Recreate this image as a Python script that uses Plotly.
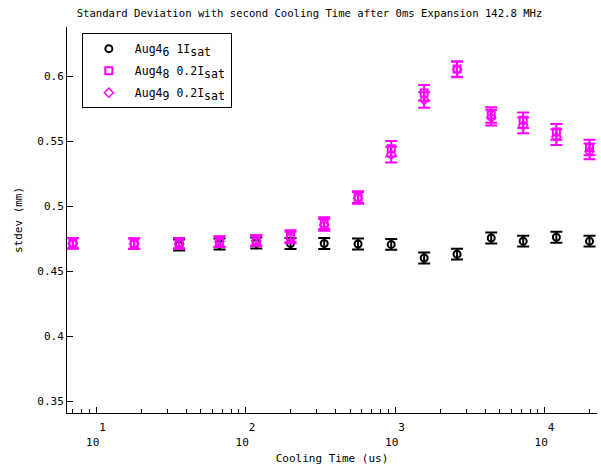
import plotly.graph_objects as go

# Cooling times (us)
t_all = [7, 18, 36, 67, 118, 200, 336, 566, 943, 1567, 2600, 4400, 7200, 12000, 20000]
t_black = [36, 67, 118, 200, 336, 566, 943, 1567, 2600, 4400, 7200, 12000, 20000]

# Aug4_6 1 Isat (black circles)
sd6 = [0.4700, 0.4708, 0.4715, 0.4712, 0.4712, 0.4708, 0.4705, 0.4600, 0.4630, 0.4754, 0.4730, 0.4760, 0.4730]
err6 = [0.0042, 0.0042, 0.0042, 0.0042, 0.0042, 0.0042, 0.0042, 0.0042, 0.0042, 0.0042, 0.0042, 0.0042, 0.0042]

# Aug4_8 0.2 Isat (magenta squares)
sd8 = [0.4715, 0.4712, 0.4715, 0.4727, 0.4737, 0.4768, 0.4868, 0.5068, 0.5440, 0.5870, 0.6054, 0.5700, 0.5660, 0.5570, 0.5450]
err8 = [0.0040, 0.0040, 0.0040, 0.0040, 0.0040, 0.0045, 0.0045, 0.0045, 0.0060, 0.0060, 0.0060, 0.0060, 0.0060, 0.0060, 0.0060]

# Aug4_9 0.2 Isat (magenta diamonds)
sd9 = [0.4712, 0.4710, 0.4712, 0.4725, 0.4733, 0.4758, 0.4855, 0.5062, 0.5395, 0.5815, 0.6050, 0.5680, 0.5620, 0.5530, 0.5420]
err9 = [0.0040, 0.0040, 0.0040, 0.0040, 0.0040, 0.0045, 0.0045, 0.0045, 0.0060, 0.0060, 0.0060, 0.0060, 0.0060, 0.0060, 0.0060]

x_major = [10, 100, 1000, 10000]
x_exponents = ["1", "2", "3", "4"]
x_minor = [m * 10 ** e for e in range(0, 5) for m in range(2, 10)]
y_ticks = [0.35, 0.4, 0.45, 0.5, 0.55, 0.6]
y_text = ["0.35", "0.4", "0.45", "0.5", "0.55", "0.6"]

FONT = "DejaVu Sans Mono"
MAG = "#FF00FF"
NB = "\u00a0"

def full_sub(s):
    return "<sub><span style='font-size:11.5px'>" + s + "</span></sub>"

# exponent drawn on a line above the base, to its right (as in the reference)
x_major_text = [NB + NB + e + "<br>10" + NB for e in x_exponents]

names = [
    "Aug4" + full_sub("6") + " 1I" + full_sub("sat"),
    "Aug4" + full_sub("8") + " 0.2I" + full_sub("sat"),
    "Aug4" + full_sub("9") + " 0.2I" + full_sub("sat"),
]

fig = go.Figure()
fig.add_trace(go.Scatter(
    x=t_black, y=sd6, mode="markers", name=names[0], legendgroup="a",
    marker=dict(symbol="circle-open", size=7, color="black", line=dict(width=2, color="black")),
    error_y=dict(type="data", array=err6, color="black", thickness=2, width=6),
))
fig.add_trace(go.Scatter(
    x=t_all, y=sd8, mode="markers", name=names[1], legendgroup="b",
    marker=dict(symbol="square-open", size=7, color=MAG, line=dict(width=2, color=MAG)),
    error_y=dict(type="data", array=err8, color=MAG, thickness=2, width=6),
))
fig.add_trace(go.Scatter(
    x=t_all, y=sd9, mode="markers", name=names[2], legendgroup="c",
    marker=dict(symbol="diamond-open", size=7, color=MAG, line=dict(width=1.5, color=MAG)),
    error_y=dict(type="data", array=err9, color=MAG, thickness=2, width=6),
))

fig.update_layout(
    width=601, height=472,
    margin=dict(l=67, r=4, t=27, b=59),
    paper_bgcolor="white", plot_bgcolor="white",
    font=dict(family=FONT, size=11, color="black"),
    title=dict(text="Standard Deviation with second Cooling Time after 0ms Expansion 142.8 MHz",
               x=0.515, xanchor="center", y=0.972, yanchor="middle",
               font=dict(family=FONT, size=10.6, color="black")),
    showlegend=True,
    legend=dict(x=0.028, y=0.984, xanchor="left", yanchor="top",
                bordercolor="black", borderwidth=1, bgcolor="white",
                font=dict(family=FONT, size=11.5), tracegroupgap=3,
                itemwidth=42),
    xaxis=dict(
        type="log", range=[0.806, 4.351],
        showline=True, linecolor="black", linewidth=1, mirror=False,
        showgrid=False, zeroline=False,
        ticks="inside", ticklen=6, tickcolor="black",
        tickmode="array", tickvals=x_major, ticktext=x_major_text,
        ticklabelstandoff=4,
        minor=dict(ticks="inside", ticklen=4, tickcolor="black", tickvals=x_minor, showgrid=False),
        title=dict(text="Cooling Time (us)", standoff=6, font=dict(family=FONT, size=11)),
        tickfont=dict(family=FONT, size=11),
    ),
    yaxis=dict(
        range=[0.3408, 0.6377],
        showline=True, linecolor="black", linewidth=1, mirror=False,
        showgrid=False, zeroline=False,
        ticks="inside", ticklen=6, tickcolor="black",
        tickmode="array", tickvals=y_ticks, ticktext=y_text,
        title=dict(text="stdev (mm)", standoff=12, font=dict(family=FONT, size=11)),
        tickfont=dict(family=FONT, size=11),
    ),
)

fig.write_html("out.html")
